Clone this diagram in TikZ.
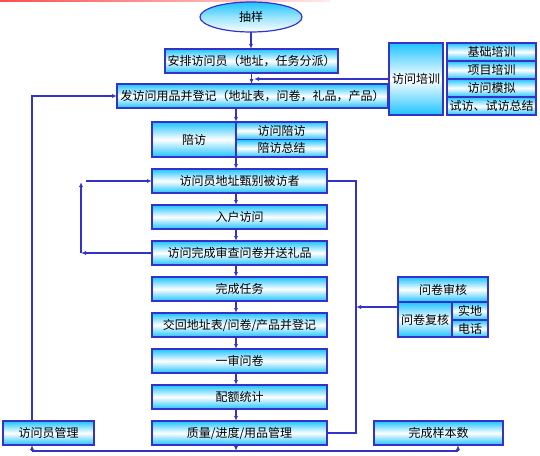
\documentclass[tikz,border=0pt]{standalone}
\usepackage{fontspec}
\newfontfamily\cjk{Noto Sans CJK SC}
\usetikzlibrary{arrows.meta,shapes.geometric,calc}
\definecolor{bl}{RGB}{51,51,204}
\definecolor{cy}{RGB}{30,195,255}
\begin{document}
\begin{tikzpicture}[x=1pt,y=-1pt,
  box/.style={draw=bl,line width=1.2pt,top color=cy,bottom color=cy,middle color=white,
    inner sep=0pt,outer sep=0pt,font=\cjk\fontsize{12}{14}\selectfont,text=black},
  ln/.style={draw=bl,line width=1.1pt},
  ar/.style={ln,-{Latex[length=5pt,width=4pt]}}]
\useasboundingbox (0,0) rectangle (540,455);
\shade[left color=red!70, right color=red!8] (0,0) rectangle (330,1.5);
% coordinates
\coordinate (ax) at (236,0);
\coordinate (lx) at (81,0);
\coordinate (rx) at (356,0);
\coordinate (bx) at (32,0);
\coordinate (yx) at (458,0);
\coordinate (tx) at (254,0);
\coordinate (by) at (0,451);
\coordinate (ry) at (0,307);
% nodes
\node[box,ellipse,minimum width=102,minimum height=30,top color=cy,bottom color=white,middle color=cy!45!white] (cy0) at (251,17) {抽样};
\node[box,minimum width=173,minimum height=24] (ap) at (251.5,61) {安排访问员（地址，任务分派）};
\node[box,minimum width=271,minimum height=24] (fa) at (252.5,96) {发访问用品并登记（地址表，问卷，礼品，产品）};
\node[box,minimum width=54,minimum height=72] (px) at (416,79) {访问培训};
\node[box,minimum width=89,minimum height=18] (p1) at (491.5,52) {基础培训};
\node[box,minimum width=89,minimum height=18] (p2) at (491.5,70) {项目培训};
\node[box,minimum width=89,minimum height=18] (p3) at (491.5,88) {访问模拟};
\node[box,minimum width=89,minimum height=18] (p4) at (491.5,106) {试访、试访总结};
\node[box,minimum width=84,minimum height=35] (pf) at (194,139.5) {陪访};
\node[box,minimum width=91,minimum height=17.5] (pf1) at (281.5,130.75) {访问陪访};
\node[box,minimum width=91,minimum height=17.5] (pf2) at (281.5,148.25) {陪访总结};
\node[box,minimum width=175,minimum height=24] (jb) at (239.5,181) {访问员地址甄别被访者};
\node[box,minimum width=175,minimum height=24] (rh) at (239.5,217) {入户访问};
\node[box,minimum width=175,minimum height=24] (wc) at (239.5,253) {访问完成审查问卷并送礼品};
\node[box,minimum width=175,minimum height=24] (rw) at (239.5,289) {完成任务};
\node[box,minimum width=175,minimum height=24] (jh) at (239.5,325) {交回地址表/问卷/产品并登记};
\node[box,minimum width=175,minimum height=24] (ys) at (239.5,361) {一审问卷};
\node[box,minimum width=175,minimum height=24] (pe) at (239.5,397) {配额统计};
\node[box,minimum width=175,minimum height=24] (zl) at (239.5,433) {质量/进度/用品管理};
\node[box,minimum width=91,minimum height=24] (gl) at (48.5,433) {访问员管理};
\node[box,minimum width=129,minimum height=24] (yb) at (438.5,433) {完成样本数};
\node[box,minimum width=90,minimum height=25] (wh) at (443,289.5) {问卷审核};
\node[box,minimum width=54,minimum height=35] (fh) at (425,319.5) {问卷复核};
\node[box,minimum width=36,minimum height=18] (sd) at (470,311) {实地};
\node[box,minimum width=36,minimum height=17] (dh) at (470,328.5) {电话};
% connectors
\draw[ar] (cy0.south) -- (cy0.south |- ap.north);
\draw[ar] (ap.south) -- (ap.south |- fa.north);
\draw[ar] (fa.south -| ax) -- (pf.north -| ax);
\draw[ar] (pf.south -| ax) -- (jb.north -| ax);
\draw[ar] (jb.south -| ax) -- (rh.north -| ax);
\draw[ar] (rh.south -| ax) -- (wc.north -| ax);
\draw[ar] (wc.south -| ax) -- (rw.north -| ax);
\draw[ar] (rw.south -| ax) -- (jh.north -| ax);
\draw[ar] (jh.south -| ax) -- (ys.north -| ax);
\draw[ar] (ys.south -| ax) -- (pe.north -| ax);
\draw[ar] (pe.south -| ax) -- (zl.north -| ax);
\draw[ar] (zl.south -| ax) -- (ax |- by);
\draw[ln] (bx |- by) -- (yx |- by);
\draw[ar] (bx |- by) -- (gl.south -| bx);
\draw[ar] (yx |- by) -- (yb.south -| yx);
\draw[ar] (gl.north -| bx) |- (fa.west);
\draw[ar] (px.west) -- (px.west -| tx);
\draw[ln] (jb.east) -- (jb.east -| rx) -- (zl.east -| rx) -- (zl.east);
\draw[ar] (fh.west |- ry) -- (rx |- ry);
\draw[ar] (wc.west) -- (wc.west -| lx);
\draw[ar] (wc.west -| lx) -- ($(lx |- jb.west)+(0,1)$);
\draw[ar] ($(lx |- jb.west)+(5,0)$) -- (jb.west);
\end{tikzpicture}
\end{document}
